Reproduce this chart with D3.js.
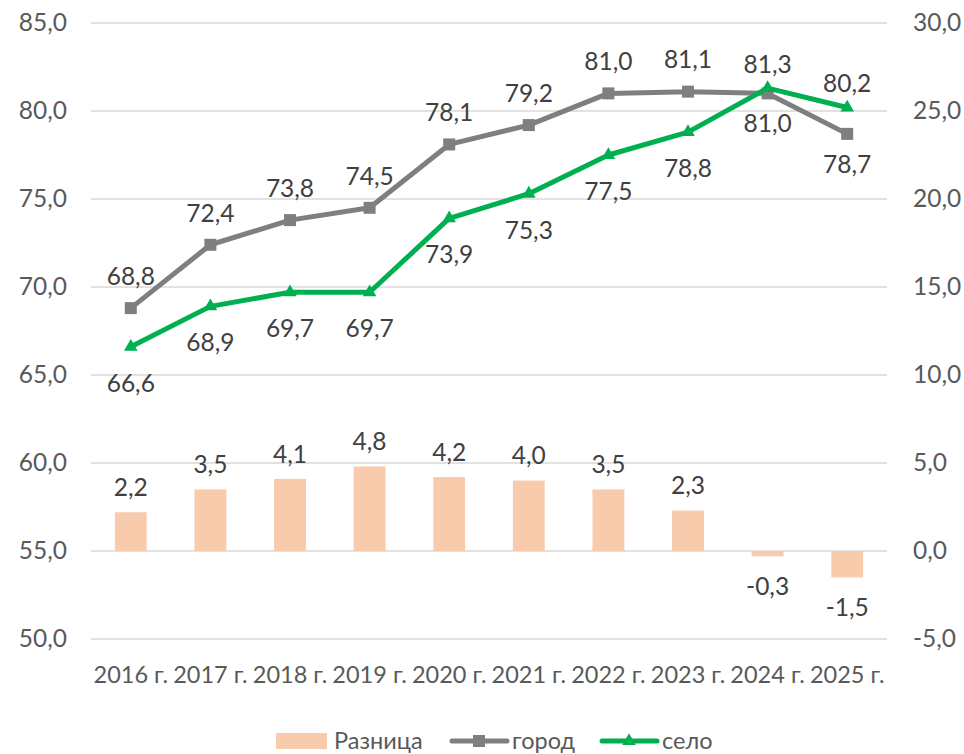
<!DOCTYPE html>
<html>
<head>
<meta charset="utf-8">
<script src="https://cdn.jsdelivr.net/npm/d3@7"></script>
<style>
  html, body { margin: 0; padding: 0; background: #fff; }
  svg { display: block; font-family: Lato, "Open Sans", sans-serif; }
</style>
</head>
<body>
<svg id="chart" width="964" height="754"></svg>
<script>
const categories = ["2016 г.", "2017 г.", "2018 г.", "2019 г.", "2020 г.", "2021 г.", "2022 г.", "2023 г.", "2024 г.", "2025 г."];
const gorod = [68.8, 72.4, 73.8, 74.5, 78.1, 79.2, 81.0, 81.1, 81.0, 78.7];
const selo = [66.6, 68.9, 69.7, 69.7, 73.9, 75.3, 77.5, 78.8, 81.3, 80.2];
const raznica = [2.2, 3.5, 4.1, 4.8, 4.2, 4.0, 3.5, 2.3, -0.3, -1.5];
const leftTicks = [50, 55, 60, 65, 70, 75, 80, 85];
const rightTicks = [-5, 0, 5, 10, 15, 20, 25, 30];
const legendLabels = ["Разница", "город", "село"];
// label placement: true = above point
const gorodAbove = [true, true, true, true, true, true, true, true, false, false];
const seloAbove = [false, false, false, false, false, false, false, false, true, true];

const fmt = v => d3.format(".1f")(v).replace(".", ",").replace("−", "-");

const svg = d3.select("#chart");
const x0 = 91, x1 = 887, yTop = 23, yBot = 639;

const x = d3.scaleBand().domain(categories).range([x0, x1]).paddingInner(0).paddingOuter(0);
const yL = d3.scaleLinear().domain([50, 85]).range([yBot, yTop]);
const yR = d3.scaleLinear().domain([-5, 30]).range([yBot, yTop]);
const cx = c => x(c) + x.bandwidth() / 2;

const textColor = "#595959";
const labelColor = "#404040";
const FS = "24.5px";

// gridlines
svg.append("g").selectAll("line").data(leftTicks).join("line")
  .attr("x1", x0).attr("x2", x1)
  .attr("y1", d => yL(d)).attr("y2", d => yL(d))
  .attr("stroke", "#d9d9d9").attr("stroke-width", 1.5);

// left axis
const gL = svg.append("g").attr("transform", `translate(${x0},0)`)
  .call(d3.axisLeft(yL).tickValues(leftTicks).tickFormat(fmt).tickSize(0).tickPadding(24));
gL.select(".domain").remove();
gL.selectAll("text").attr("fill", textColor).style("font-size", FS).style("font-family", "Lato, 'Open Sans', sans-serif");

// right axis
const gR = svg.append("g").attr("transform", `translate(${x1},0)`)
  .call(d3.axisRight(yR).tickValues(rightTicks).tickFormat(fmt).tickSize(0).tickPadding(26));
gR.select(".domain").remove();
gR.selectAll("text").attr("fill", textColor).style("font-size", FS).style("font-family", "Lato, 'Open Sans', sans-serif");

// x axis
const gX = svg.append("g").attr("transform", `translate(0,${yBot})`)
  .call(d3.axisBottom(x).tickSize(0).tickPadding(27));
gX.select(".domain").remove();
gX.selectAll("text").attr("fill", textColor).style("font-size", "23.5px").style("font-family", "Lato, 'Open Sans', sans-serif");

// bars
const bw = x.bandwidth() * 0.4;
svg.append("g").selectAll("rect").data(raznica).join("rect")
  .attr("x", (d, i) => cx(categories[i]) - bw / 2)
  .attr("width", bw)
  .attr("y", d => Math.min(yR(d), yR(0)))
  .attr("height", d => Math.abs(yR(d) - yR(0)))
  .attr("fill", "#f8cbad");

svg.append("g").selectAll("text").data(raznica).join("text")
  .attr("x", (d, i) => cx(categories[i]))
  .attr("y", d => d >= 0 ? yR(d) - 25 : yR(d) + 30)
  .attr("dy", "0.36em")
  .attr("text-anchor", "middle")
  .attr("fill", labelColor).style("font-size", FS)
  .text(fmt);

// lines
const lineG = d3.line().x((d, i) => cx(categories[i])).y(d => yL(d));
svg.append("path").datum(gorod).attr("d", lineG)
  .attr("fill", "none").attr("stroke", "#7f7f7f").attr("stroke-width", 5).attr("stroke-linejoin", "round");
svg.append("g").selectAll("rect").data(gorod).join("rect")
  .attr("x", (d, i) => cx(categories[i]) - 6)
  .attr("y", d => yL(d) - 6)
  .attr("width", 12).attr("height", 12)
  .attr("fill", "#7f7f7f");

svg.append("path").datum(selo).attr("d", lineG)
  .attr("fill", "none").attr("stroke", "#00b050").attr("stroke-width", 5).attr("stroke-linejoin", "round");
const tri = d3.symbol().type(d3.symbolTriangle).size(80);
svg.append("g").selectAll("path").data(selo).join("path")
  .attr("d", tri)
  .attr("transform", (d, i) => `translate(${cx(categories[i])},${yL(d)})`)
  .attr("fill", "#00b050");

// line labels
svg.append("g").selectAll("text").data(gorod).join("text")
  .attr("x", (d, i) => cx(categories[i]))
  .attr("y", (d, i) => gorodAbove[i] ? yL(d) - 32 : yL(d) + 30)
  .attr("dy", "0.36em")
  .attr("text-anchor", "middle")
  .attr("fill", labelColor).style("font-size", FS)
  .text(fmt);

svg.append("g").selectAll("text").data(selo).join("text")
  .attr("x", (d, i) => cx(categories[i]))
  .attr("y", (d, i) => seloAbove[i] ? yL(d) - 24 : yL(d) + 36)
  .attr("dy", "0.36em")
  .attr("text-anchor", "middle")
  .attr("fill", labelColor).style("font-size", FS)
  .text(fmt);

// legend
const ly = 741;
const leg = svg.append("g");
leg.append("rect").attr("x", 276).attr("y", ly - 8).attr("width", 51).attr("height", 16).attr("fill", "#f8cbad");
leg.append("text").attr("x", 334).attr("y", ly).attr("dy", "0.36em").attr("fill", textColor).style("font-size", "23.5px").text(legendLabels[0]);

leg.append("line").attr("x1", 452).attr("x2", 507).attr("y1", ly).attr("y2", ly)
  .attr("stroke", "#7f7f7f").attr("stroke-width", 5).attr("stroke-linecap", "round");
leg.append("rect").attr("x", 473).attr("y", ly - 6).attr("width", 12).attr("height", 12).attr("fill", "#7f7f7f");
leg.append("text").attr("x", 512).attr("y", ly).attr("dy", "0.36em").attr("fill", textColor).style("font-size", "23.5px").text(legendLabels[1]);

leg.append("line").attr("x1", 602).attr("x2", 657).attr("y1", ly).attr("y2", ly)
  .attr("stroke", "#00b050").attr("stroke-width", 5).attr("stroke-linecap", "round");
leg.append("path").attr("d", tri).attr("transform", `translate(629,${ly})`).attr("fill", "#00b050");
leg.append("text").attr("x", 662).attr("y", ly).attr("dy", "0.36em").attr("fill", textColor).style("font-size", "23.5px").text(legendLabels[2]);
</script>
</body>
</html>
